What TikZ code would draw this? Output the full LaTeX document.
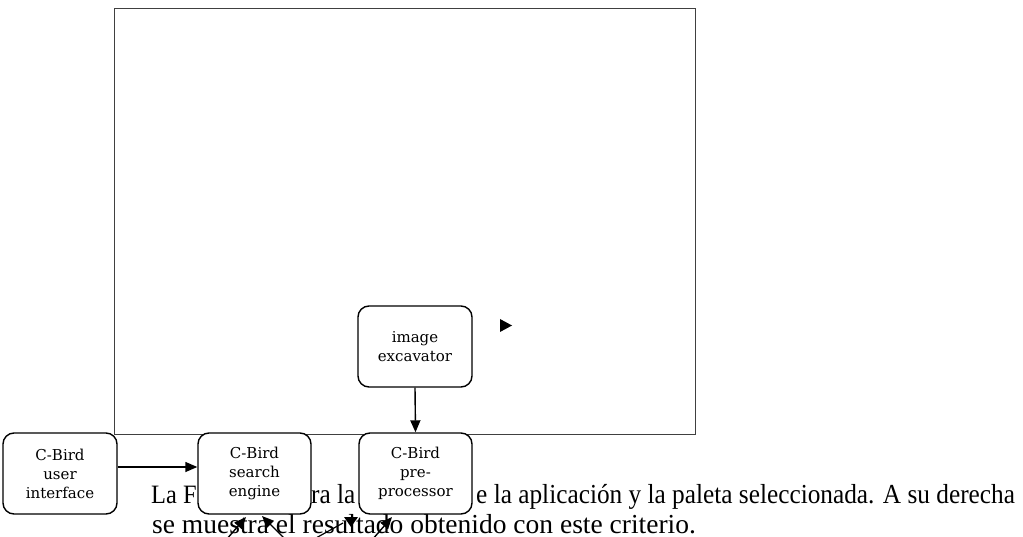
\documentclass[tikz,border=0pt]{standalone}
\usepackage{fontspec}
\setmainfont{DejaVu Serif}
\newfontfamily\bodyfont{Liberation Serif}
\newfontfamily\bodyfontnarrow[FakeStretch=0.92]{Liberation Serif}
\usetikzlibrary{arrows.meta}
\tikzset{
  box/.style={draw=black, line width=1.4pt, rounded corners=11pt, fill=white,
    minimum width=114pt, minimum height=81pt, align=center, inner sep=0pt,
    font=\fontsize{15}{19}\selectfont},
  frame/.style={draw=black!75, line width=1pt},
  conn/.style={draw=black, line width=1.4pt, -{Triangle[length=12pt,width=10pt]}},
  bodytext/.style={inner sep=0pt, anchor=base west, font=\bodyfont\fontsize{27.5}{30}\selectfont},
  narrowtext/.style={bodytext, font=\bodyfontnarrow\fontsize{27.5}{30}\selectfont},
  head/.style={fill=black, draw=none}
}
\begin{document}
\begin{tikzpicture}[x=1pt,y=-1pt]
\useasboundingbox (0,0) rectangle (1023,537);
% frame
\draw[frame] (114,9) rectangle (695,434);
% body text
\node[narrowtext, font=\bodyfontnarrow\fontsize{26.5}{30}\selectfont] (t1) at (151,503) {La F};
\node[narrowtext] (t2) at (311,503) {ra la};
\node[narrowtext] (t3) at (476,503) {e la aplicación y la paleta seleccionada. A su derecha};
\node[bodytext] (t4) at (152,533) {se muestra el resultado obtenido con este criterio.};
% boxes
\node[box] (ie) at (415,346.5) {image\\excavator};
\node[box] (ui) at (60,473.5) {C-Bird\\user\\interface};
\node[box, minimum width=113pt] (se) at (254.5,473.5) {C-Bird\\search\\engine};
\node[box, minimum width=113pt] (pp) at (415.5,473.5) {C-Bird\\pre-\\processor};
% connectors
\draw[conn] (ie.south) -- (pp.north);
\draw[conn] ([yshift=6.5pt]ui.east) -- ([yshift=6.5pt]se.west);
% stray arrowheads
\coordinate (h1) at (500,319);
\fill[head] (h1) -- ++(12,6.5) -- ++(-12,6.5) -- cycle;
\coordinate (a1s) at (226,540);
\coordinate (a1e) at (246,517);
\draw[conn] (a1s) -- (a1e);
\coordinate (a2s) at (286,540);
\coordinate (a2e) at (262,516);
\draw[conn] (a2s) -- (a2e);
\coordinate (a3s) at (316,538);
\coordinate (a3e) at (343,523);
\draw[line width=1.2pt] (a3s) -- (a3e);
\coordinate (h3) at (344,517);
\fill[head] (h3) -- ++(14,0) -- ++(-7,10) -- cycle;
\coordinate (a4s) at (372,540);
\coordinate (a4e) at (392,517);
\draw[conn] (a4s) -- (a4e);
\end{tikzpicture}
\end{document}
